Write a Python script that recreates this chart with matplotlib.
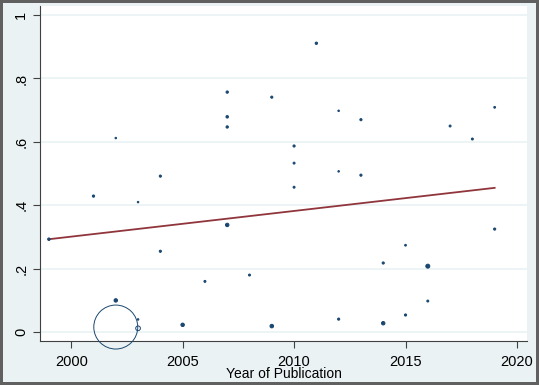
import numpy as np
import matplotlib.pyplot as plt

# study year, effect size, study weight (bubble area)
years = [1999, 2001, 2002, 2003, 2004, 2004, 2002, 2002, 2003, 2003,
         2005, 2006, 2007, 2007, 2007, 2007, 2008, 2009, 2009, 2011,
         2010, 2010, 2010, 2012, 2012, 2013, 2013, 2012, 2014, 2014,
         2015, 2015, 2016, 2016, 2017, 2018, 2019, 2019]
values = [0.293, 0.429, 0.612, 0.410, 0.492, 0.255, 0.100, 0.016, 0.012, 0.040,
          0.023, 0.160, 0.338, 0.757, 0.679, 0.647, 0.180, 0.741, 0.019, 0.911,
          0.587, 0.533, 0.457, 0.698, 0.507, 0.670, 0.495, 0.041, 0.028, 0.218,
          0.274, 0.054, 0.208, 0.098, 0.650, 0.609, 0.709, 0.325]
weights = [1.6, 1.3, 0.6, 0.6, 1.2, 1.2, 3.0, 484, 5.5, 0.6,
           3.0, 1.0, 3.0, 1.4, 1.6, 1.4, 1.0, 1.2, 3.2, 1.4,
           1.2, 1.0, 1.0, 0.6, 0.6, 1.2, 1.2, 1.2, 3.0, 1.2,
           0.8, 1.2, 4.0, 1.0, 1.0, 1.0, 0.8, 1.2]

# fitted meta-regression line
fit_years = [1999, 2019]
fit_vals = [0.293, 0.455]

xticks = [2000, 2005, 2010, 2015, 2020]
yticks = [0, 0.2, 0.4, 0.6, 0.8, 1]
ylabels = ['0', '.2', '.4', '.6', '.8', '1']

bg = '#EAF2F3'
navy = '#1A476F'
maroon = '#90353B'

plt.rcParams['font.family'] = ['Liberation Sans', 'DejaVu Sans']

fig = plt.figure(figsize=(5.39, 3.85), dpi=100)
fig.patch.set_facecolor(bg)
fig.patch.set_edgecolor('#606060')
fig.patch.set_linewidth(3)
ax = fig.add_axes([0.0742, 0.1143, 0.9035, 0.8697])
ax.set_facecolor('white')

for y in yticks:
    ax.axhline(y, color=bg, lw=1.2, zorder=0)

w = np.array(weights)
sizes = w * 2.07
# small bubbles render as solid dots, large ones as open circles
faces = [navy if wi < 5 else 'none' for wi in w]
ax.scatter(years, values, s=sizes, facecolors=faces, edgecolors=navy,
           linewidths=0.7, clip_on=False, zorder=3)
ax.plot(fit_years, fit_vals, color=maroon, lw=1.3, zorder=2)

ax.set_xlim(1998.6, 2020.45)
ax.set_ylim(-0.028, 1.028)
ax.set_xticks(xticks)
ax.set_yticks(yticks)
ax.set_yticklabels(ylabels, rotation=90, va='center')
ax.tick_params(axis='both', labelsize=10.5, length=5, width=0.8, color='#404040')
ax.tick_params(axis='x', pad=5)
ax.set_xlabel('Year of Publication', fontsize=10, labelpad=-1)

for side in ['top', 'right']:
    ax.spines[side].set_visible(False)
for side in ['left', 'bottom']:
    ax.spines[side].set_color('#404040')
    ax.spines[side].set_linewidth(0.8)

fig.savefig('out.png', dpi=100, facecolor=fig.get_facecolor(), edgecolor=fig.get_edgecolor())
